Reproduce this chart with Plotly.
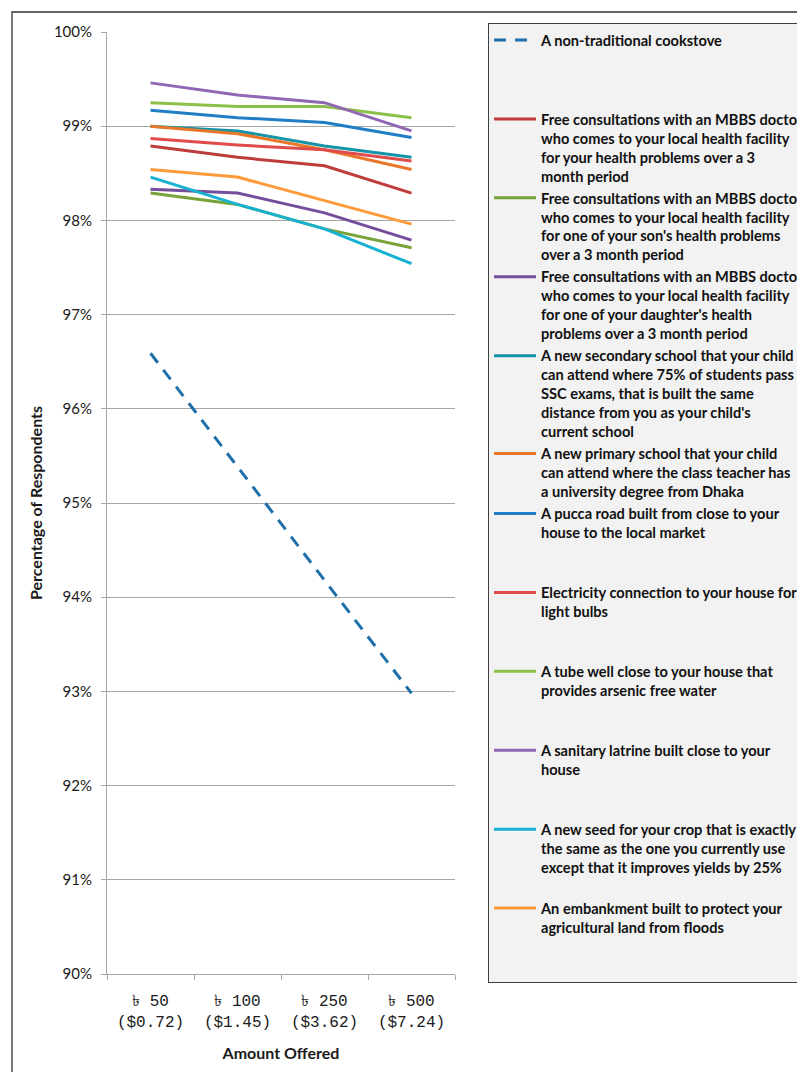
import plotly.graph_objects as go

categories = ["৳ 50<br>($0.72)", "৳ 100<br>($1.45)", "৳ 250<br>($3.62)", "৳ 500<br>($7.24)"]

NB = "\u00a0"

series_names = [
    "A non-traditional cookstove<br>" + NB + "<br>" + NB + "<br>" + NB,
    "Free consultations with an MBBS doctor<br>who comes to your local health facility<br>for your health problems over a 3<br>month period",
    "Free consultations with an MBBS doctor<br>who comes to your local health facility<br>for one of your son's health problems<br>over a 3 month period",
    "Free consultations with an MBBS doctor<br>who comes to your local health facility<br>for one of your daughter's health<br>problems over a 3 month period",
    "A new secondary school that your child<br>can attend where 75% of students pass<br>SSC exams, that is built the same<br>distance from you as your child's<br>current school",
    "A new primary school that your child<br>can attend where the class teacher has<br>a university degree from Dhaka",
    "A pucca road built from close to your<br>house to the local market<br>" + NB + "<br>" + NB,
    "Electricity connection to your house for<br>light bulbs<br>" + NB + "<br>" + NB,
    "A tube well close to your house that<br>provides arsenic free water<br>" + NB + "<br>" + NB,
    "A sanitary latrine built close to your<br>house<br>" + NB + "<br>" + NB,
    "A new seed for your crop that is exactly<br>the same as the one you currently use<br>except that it improves yields by 25%<br>" + NB,
    "An embankment built to protect your<br>agricultural land from floods<br>" + NB + "<br>" + NB,
]

cookstove = [96.59, 95.38, 94.18, 92.98]
own_health = [98.79, 98.67, 98.58, 98.29]
son_health = [98.29, 98.17, 97.91, 97.71]
daughter_health = [98.33, 98.29, 98.08, 97.79]
secondary_school = [99.00, 98.95, 98.79, 98.67]
primary_school = [99.00, 98.92, 98.75, 98.54]
pucca_road = [99.17, 99.09, 99.04, 98.88]
electricity = [98.87, 98.80, 98.75, 98.63]
tube_well = [99.25, 99.21, 99.21, 99.09]
sanitary_latrine = [99.46, 99.33, 99.25, 98.95]
new_seed = [98.46, 98.17, 97.91, 97.54]
embankment = [98.54, 98.46, 98.21, 97.96]

series_values = [cookstove, own_health, son_health, daughter_health, secondary_school,
                 primary_school, pucca_road, electricity, tube_well, sanitary_latrine,
                 new_seed, embankment]

colors = ["#1F6FAA", "#BE3D3A", "#77A33A", "#744E9C", "#1594A8", "#E8772A",
          "#1F7EC6", "#E04B4B", "#8CC04A", "#9166B3", "#17B1D1", "#FF9A3A"]

fig = go.Figure()
for i, (name, vals, col) in enumerate(zip(series_names, series_values, colors)):
    fig.add_trace(go.Scatter(
        x=categories, y=vals, name=name, mode="lines",
        line=dict(color=col, width=3, dash="12px,9px" if i == 0 else "solid"),
    ))

W, H = 797, 1064
PL, PR, PT, PB = 99, 447, 24, 966
grid = "#a6a6a6"
txt = "Lato, Liberation Sans, Arial, sans-serif"
fig.update_layout(
    width=W, height=H,
    margin=dict(l=PL, r=W - PR, t=PT, b=H - PB, autoexpand=False),
    paper_bgcolor="white", plot_bgcolor="white",
    font=dict(family=txt, color="#1a1a1a"),
    showlegend=True,
    legend=dict(
        xref="container", yref="container", x=480 / W, y=1 - 15 / H,
        xanchor="left", yanchor="top",
        bgcolor="#f2f2f2", bordercolor="#404040", borderwidth=1,
        font=dict(family=txt, size=14.6, color="#111111", weight="bold"),
        valign="top", itemwidth=42, tracegroupgap=0, maxheight=1000,
    ),
    xaxis=dict(
        type="category", range=[-0.5, 3.5], showgrid=False, showline=True, linecolor=grid, linewidth=1,
        ticks="outside", ticklen=5, tickcolor=grid, tickson="boundaries",
        tickfont=dict(family="Liberation Mono, DejaVu Sans Mono, monospace", size=16, color="#1a1a1a"),
        ticklabelstandoff=12,
        title=dict(text="<b>Amount Offered</b>", font=dict(size=16, family=txt), standoff=16),
    ),
    yaxis=dict(
        range=[90, 100], dtick=1, ticksuffix="%", showgrid=True, gridcolor=grid, gridwidth=1,
        showline=True, linecolor=grid, linewidth=1, ticks="outside", ticklen=5, tickcolor=grid,
        tickfont=dict(size=15, family=txt), ticklabelstandoff=6,
        title=dict(text="<b>Percentage of Respondents</b>", font=dict(size=16, family=txt), standoff=7),
        zeroline=False,
    ),
    shapes=[dict(type="rect", xref="paper", yref="paper",
                 x0=(4 - PL) / (PR - PL), x1=(830 - PL) / (PR - PL),
                 y0=(PB - 1100) / (PB - PT), y1=(PB - 4) / (PB - PT),
                 line=dict(color="#333333", width=1.3), fillcolor="rgba(0,0,0,0)", layer="below")],
)

fig.write_html("out.html")
